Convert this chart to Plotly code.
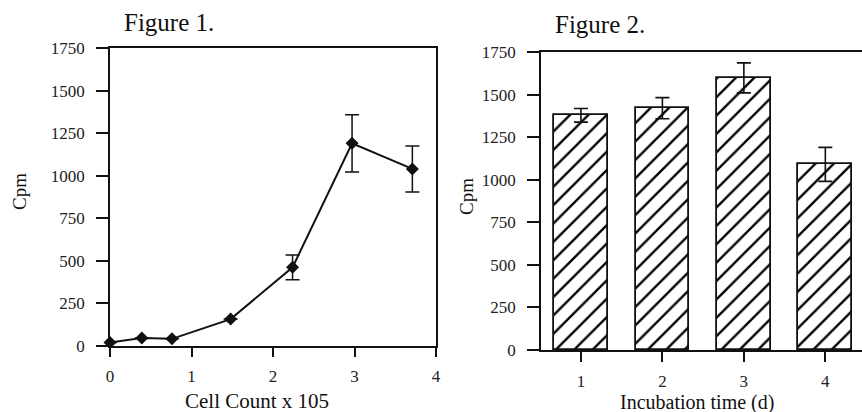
import plotly.graph_objects as go

# Figure 1 data
cell_count = [0.0, 0.39, 0.76, 1.48, 2.24, 2.97, 3.71]
cpm_fig1 = [20, 47, 42, 158, 462, 1190, 1040]
err_fig1 = [0, 0, 0, 0, 73, 168, 135]

# Figure 2 data
days = [1, 2, 3, 4]
cpm_fig2 = [1378, 1420, 1598, 1090]
err_fig2 = [40, 62, 88, 100]

yticks = [0, 250, 500, 750, 1000, 1250, 1500, 1750]
xticks1 = [0, 1, 2, 3, 4]

FONT = "Liberation Serif"
INK = "#111111"

fig = go.Figure()

fig.add_trace(go.Scatter(
    x=cell_count, y=cpm_fig1, mode="lines+markers",
    line=dict(color=INK, width=2),
    marker=dict(symbol="diamond", size=10, color=INK),
    error_y=dict(type="data", array=err_fig1, visible=True, color=INK, thickness=1.5, width=7),
    xaxis="x", yaxis="y", showlegend=False, cliponaxis=False,
))

fig.add_trace(go.Bar(
    x=days, y=cpm_fig2, width=0.66,
    marker=dict(color="white", line=dict(color=INK, width=1.8),
                pattern=dict(shape="/", size=13, solidity=0.18, fgcolor="#000000", bgcolor="white")),
    error_y=dict(type="data", array=err_fig2, visible=True, color=INK, thickness=1.6, width=7),
    xaxis="x2", yaxis="y2", showlegend=False,
))

W, H = 862, 412
axis_common = dict(showline=True, linecolor=INK, linewidth=1.6, showgrid=False, zeroline=False,
                   ticks="outside", tickcolor=INK, tickwidth=1.5, automargin=False,
                   tickfont=dict(family=FONT, size=17, color="#222"))

fig.update_layout(
    template="none",
    width=W, height=H,
    margin=dict(l=0, r=0, t=0, b=0),
    paper_bgcolor="white", plot_bgcolor="white",
    font=dict(family=FONT, color=INK),
    bargap=0,
    xaxis=dict(domain=[110 / W, 436 / W], range=[0, 4], tickvals=xticks1, ticklen=9,
               mirror=True, anchor="y", ticklabelstandoff=5, **axis_common),
    yaxis=dict(domain=[(H - 346) / H, (H - 48) / H], range=[0, 1750], tickvals=yticks, ticklen=12,
               mirror=True, anchor="x", ticklabelstandoff=8, **axis_common),
    xaxis2=dict(domain=[541 / W, 1.0], range=[0.51, 4.45], tickvals=days, ticklen=10,
                mirror=True, anchor="y2", ticklabelstandoff=5, **axis_common),
    yaxis2=dict(domain=[(H - 350) / H, (H - 52) / H], range=[0, 1750], tickvals=yticks, ticklen=12,
                anchor="x2", ticklabelstandoff=8, **axis_common),
    annotations=[
        dict(text="Figure 1.", x=122, y=H - 23, xref="paper", yref="paper", showarrow=False,
             xanchor="left", yanchor="middle", font=dict(family=FONT, size=25, color=INK)),
        dict(text="Figure 2.", x=553, y=H - 25, xref="paper", yref="paper", showarrow=False,
             xanchor="left", yanchor="middle", font=dict(family=FONT, size=25, color=INK)),
        dict(text="Cell Count x 105", x=257, y=H - 401, xref="paper", yref="paper", showarrow=False,
             xanchor="center", yanchor="middle", font=dict(family=FONT, size=21, color=INK)),
        dict(text="Incubation time (d)", x=697, y=H - 402, xref="paper", yref="paper", showarrow=False,
             xanchor="center", yanchor="middle", font=dict(family=FONT, size=20, color=INK)),
        dict(text="Cpm", x=19, y=H - 192, xref="paper", yref="paper", showarrow=False, textangle=-90,
             xanchor="center", yanchor="middle", font=dict(family=FONT, size=19, color=INK)),
        dict(text="Cpm", x=466, y=H - 197, xref="paper", yref="paper", showarrow=False, textangle=-90,
             xanchor="center", yanchor="middle", font=dict(family=FONT, size=19, color=INK)),
    ],
)

# convert pixel annotation coords to paper fractions
for a in fig.layout.annotations:
    a.x = a.x / W
    a.y = a.y / H

fig.write_html("out.html",
               config={"displayModeBar": False},
               post_script="document.body.style.margin='0px';document.body.style.overflow='hidden';")
